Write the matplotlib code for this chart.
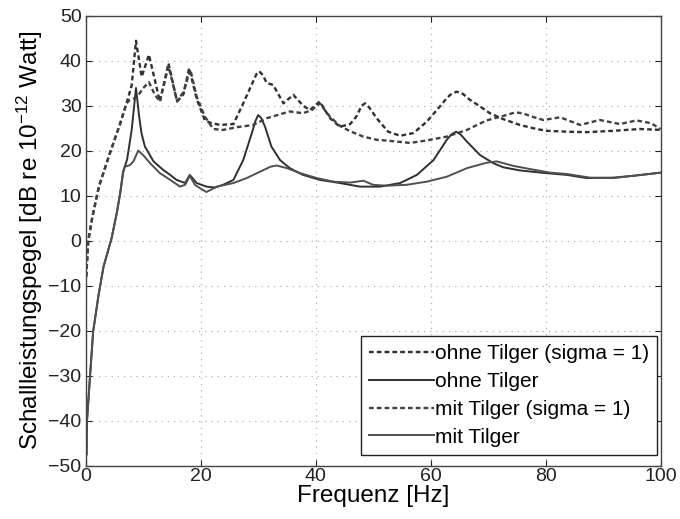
import matplotlib
matplotlib.use("Agg")
import matplotlib.pyplot as plt

plt.rcParams['font.family'] = ['Liberation Sans', 'DejaVu Sans']
plt.rcParams['mathtext.default'] = 'regular'

# ohne Tilger (sigma = 1) - dashed
f_a = [0.1, 0.45, 1.2, 2.3, 4.2, 6, 7.1, 8, 8.75, 9.74, 11, 12.9, 14.4, 15.9, 17, 18,
       19.3, 20.7, 21.6, 23.4, 25.7, 27.4, 29.1, 29.7, 30.2, 30.8, 31.5, 32.6, 34.4,
       36.1, 37.8, 39, 40.7, 42.5, 44.2, 46, 47.1, 48, 48.6, 49.3, 50.6, 52.6, 54.7,
       57, 59.3, 61.6, 62.5, 63.4, 64.5, 65.6, 66.8, 68.6, 70.3, 72.6, 75.5, 78.4,
       80.2, 83.7, 87.1, 91.8, 96.4, 100]
L_a = [-8, 0, 5.5, 12, 19.4, 26, 30.5, 34.5, 44.4, 36.4, 41.3, 30.9, 39.4, 30.9, 32.5,
       38.3, 31.5, 26.8, 26.2, 25.7, 25.9, 30.5, 35.3, 37.0, 37.6, 36.8, 35, 34.6, 30.5,
       32.4, 30.0, 29, 30.9, 27.2, 25.3, 25.9, 27.6, 30.0, 30.5, 29.6, 27.2, 24.2, 23.3,
       23.9, 26.4, 29.8, 31.2, 32.4, 33.1, 32.6, 31.3, 29.8, 28.3, 27, 25.7, 24.8,
       24.4, 24.2, 24.1, 24.4, 24.8, 24.6]

# ohne Tilger - solid
f_b = [0.15, 0.2, 0.75, 1.3, 2.2, 3.1, 4.5, 5.4, 6, 6.5, 7.2, 8, 8.75, 9.3, 9.7, 10.3,
       11.8, 13.5, 14.7, 15.8, 17.3, 18.1, 19.3, 21, 22.5, 23.9, 25.7, 27.4, 28.9, 29.5,
       30, 30.5, 31.2, 32.3, 33.8, 35.5, 37.8, 40.7, 44.2, 47.7, 51.2, 54.7, 57.6, 60.5,
       62.8, 63.6, 64.4, 65.2, 66.3, 68.6, 70.9, 72.6, 75.5, 80, 83.7, 87.1, 91.8, 95.2,
       100]
L_b = [-47.5, -40.6, -30.2, -20.2, -12.4, -5.8, 0.5, 6.1, 10.5, 15.3, 18, 24.6, 33.9,
       27.6, 23.9, 20.9, 17.6, 15.7, 14.6, 13.5, 12.8, 14.6, 12.8, 12.0, 11.8, 12.4,
       13.5, 17.9, 23.9, 26.5, 27.9, 27.3, 25.3, 20.9, 17.9, 16.1, 14.6, 13.5, 12.8,
       12.0, 12.0, 12.8, 14.6, 17.9, 22.4, 23.6, 24.2, 23.6, 22, 19, 17.2, 16.3, 15.6,
       15.0, 14.6, 13.9, 14.0, 14.4, 15.1]

# mit Tilger (sigma = 1) - dashed
f_c = [0.1, 0.45, 1.2, 2.3, 4.2, 6, 7.1, 7.7, 8.9, 10, 11, 12, 12.9, 14.4, 15.9, 17,
       18.2, 19.3, 20.7, 22.2, 23.9, 26.3, 29.1, 31.5, 34.4, 35.5, 37.8, 39.3, 40.7,
       42.5, 44.2, 46, 48.3, 50.6, 52.6, 56.4, 59, 62.8, 66.3, 69.7, 73.2, 74.7, 76,
       77.5, 79.6, 82.5, 86, 89.4, 92.9, 95.8, 98.3, 100]
L_c = [-8, 0, 5.5, 12, 19.4, 26, 30.5, 31.3, 31.8, 33.9, 35.2, 32.5, 30.9, 38.8, 31,
       33, 38, 32, 27.6, 24.8, 24.6, 25.2, 25.7, 27.2, 28.3, 28.7, 28.3, 29, 30.5, 27.5,
       25.5, 24.3, 23.1, 22.4, 22.2, 21.7, 22.2, 23.1, 24.6, 26.7, 27.9, 28.5, 28.3,
       27.6, 26.8, 27.4, 25.7, 26.8, 25.9, 26.7, 26.1, 24.8]

# mit Tilger - solid
f_d = [0.15, 0.2, 0.75, 1.3, 2.2, 3.1, 4.5, 5.4, 6, 6.5, 6.8, 7.7, 8.3, 9.15, 10, 11.2,
       12.9, 14.7, 16.4, 17.3, 18.1, 19, 20.2, 21, 22.8, 25.7, 28, 30.3, 32.1, 33.2, 35,
       37.3, 40.2, 43.1, 46, 48.3, 50, 52.3, 55.8, 59.3, 62.8, 66.3, 69.7, 71.5, 74.4,
       77.3, 80.8, 83.7, 87.7, 91.8, 95.2, 100]
L_d = [-47.5, -40.6, -30.2, -20.2, -12.4, -5.8, 0.5, 6.1, 10.5, 15.0, 16.4, 16.8, 17.6,
       20.0, 19.0, 17.2, 15.0, 13.5, 12.0, 12.4, 14.4, 12.4, 11.4, 10.8, 12.0, 12.8,
       13.9, 15.3, 16.4, 16.7, 16.1, 15.0, 13.9, 13.1, 12.9, 13.3, 12.4, 12.2, 12.4,
       13.1, 14.2, 16.1, 17.3, 17.6, 16.6, 15.9, 15.1, 14.8, 14.0, 13.9, 14.4, 15.1]

labels = ['ohne Tilger (sigma = 1)', 'ohne Tilger', 'mit Tilger (sigma = 1)', 'mit Tilger']

fig = plt.figure(figsize=(6.8, 5.19), dpi=100)
ax = fig.add_axes([0.126, 0.1027, 0.8456, 0.8673])

dash = (2.0, 1.3)
ax.plot(f_a, L_a, color='#303030', lw=1.7, dashes=dash, label=labels[0])
ax.plot(f_b, L_b, color='#303030', lw=1.4, label=labels[1])
ax.plot(f_c, L_c, color='#404040', lw=1.7, dashes=dash, label=labels[2])
ax.plot(f_d, L_d, color='#505050', lw=1.4, label=labels[3])

ax.set_xlim(0, 100)
ax.set_ylim(-50, 50)
ax.set_xticks(range(0, 101, 20))
ax.set_yticks(range(-50, 51, 10))
ax.grid(True, color='#b0b0b0', linestyle=(0, (1, 4)), lw=0.9)
ax.tick_params(direction='in', length=4.5, width=0.8, top=True, right=True,
               labelsize=14, colors='#222222', pad=3)
ax.tick_params(axis='x', pad=1.5)
for s in ax.spines.values():
    s.set_color('#444444')
    s.set_linewidth(1.0)

ax.set_xlabel('Frequenz [Hz]', fontsize=17.5, labelpad=0.5)
ax.set_ylabel('Schallleistungspegel [dB re 10$^{-12}$ Watt]', fontsize=17.5, labelpad=2)

leg = ax.legend(loc='lower right', bbox_to_anchor=(0.994, 0.024), borderaxespad=0,
                fontsize=15, handlelength=3.1, handletextpad=0.05, labelspacing=0.42,
                borderpad=0.4, fancybox=False, framealpha=1)
leg.get_frame().set_edgecolor('#222222')
leg.get_frame().set_linewidth(1.0)

fig.savefig('out.png', dpi=100)
